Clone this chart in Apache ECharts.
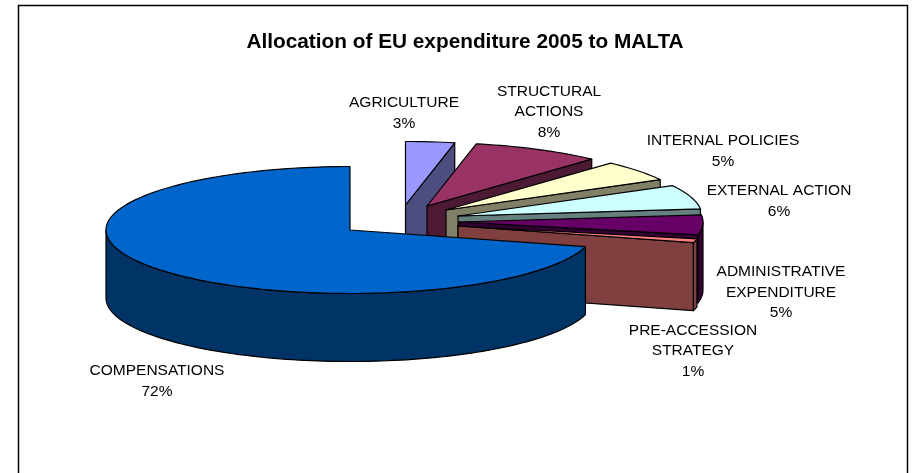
<!DOCTYPE html>
<html><head><meta charset="utf-8">
<style>html,body{margin:0;padding:0;background:#fff}#c{width:912px;height:473px}</style>
<script src="https://cdn.jsdelivr.net/npm/echarts@6/dist/echarts.min.js"></script>
</head><body><div id="c"></div>
<script>
// Data, clockwise from twelve o'clock
const categories = ['AGRICULTURE','STRUCTURAL ACTIONS','INTERNAL POLICIES','EXTERNAL ACTION','ADMINISTRATIVE EXPENDITURE','PRE-ACCESSION STRATEGY','COMPENSATIONS'];
const labelLines = [['AGRICULTURE'],['STRUCTURAL','ACTIONS'],['INTERNAL POLICIES'],['EXTERNAL ACTION'],['ADMINISTRATIVE','EXPENDITURE'],['PRE-ACCESSION','STRATEGY'],['COMPENSATIONS']];
const shares = [3,8,5,6,5,1,72];
const chartTitle = 'Allocation of EU expenditure 2005 to MALTA';

// Styling and layout of the exploded 3D pie
const topColors = ['#9999FF','#993366','#FFFFCC','#CCFFFF','#660066','#FF8080','#0066CC'];
const wallColors = ['#4D4D80','#4D1A33','#808066','#668080','#330033','#804040','#003366'];
const apexes = [[405.5,205],[427,206],[446,210],[458,216],[459,222],[458,226],[350,230]];
const labelCenters = [[404,113],[549,112],[723,151],[779,201],[781,292.5],[693,351],[157,381]];
const RX = 244, RY = 63.5, DEPTH = 68, WARP = 4.5;

const rad = d => d * Math.PI / 180;
// apparent (perspective) angle for a true clockwise angle from north
const warp = a => a + WARP * Math.sin(rad(a));
const rim = (apex, a, drop) => [apex[0] + RX * Math.sin(rad(a)), apex[1] - RY * Math.cos(rad(a)) + (drop || 0)];
function arc(apex, from, to, drop) {
  const pts = [], n = Math.max(2, Math.ceil((to - from) / 1.5));
  for (let i = 0; i <= n; i++) pts.push(rim(apex, from + (to - from) * i / n, drop));
  return pts;
}
const total = shares.reduce((s, v) => s + v, 0);

function renderSlice(params, api) {
  const i = params.dataIndex, value = api.value(0);
  let before = 0;
  for (let k = 0; k < i; k++) before += shares[k];
  const a0 = warp(before / total * 360), a1 = warp((before + value) / total * 360);
  const apex = apexes[i];
  const style = c => ({ fill: c, stroke: '#000', lineWidth: 1.2, lineJoin: 'round' });
  const kids = [];
  // radial cut face at the clockwise end
  const e = rim(apex, a1);
  if (a1 < 180) kids.push({ type: 'polygon', shape: { points: [apex, e, [e[0], e[1] + DEPTH], [apex[0], apex[1] + DEPTH]] }, style: style(wallColors[i]) });
  // rim wall on the part of the arc that faces the viewer
  const wf = Math.max(a0, 90), wt = Math.min(a1, 270);
  if (wt > wf) kids.push({ type: 'polygon', shape: { points: arc(apex, wf, wt).concat(arc(apex, wf, wt, DEPTH).reverse()) }, style: style(wallColors[i]) });
  // top face
  kids.push({ type: 'polygon', shape: { points: [apex].concat(arc(apex, a0, a1)) }, style: style(topColors[i]) });
  return { type: 'group', children: kids };
}

function renderLabel(params, api) {
  const i = params.dataIndex, c = labelCenters[i];
  return { type: 'text', silent: true, style: {
    x: c[0], y: c[1], align: 'center', verticalAlign: 'middle',
    text: labelLines[i].concat([Math.round(api.value(0)) + '%']).join('\n'),
    font: '15.5px "Liberation Sans", Arial, sans-serif', lineHeight: 20.5, fill: '#000'
  } };
}

const data = categories.map((name, i) => ({ name, value: [shares[i]] }));
echarts.init(document.getElementById('c'), null, { renderer: 'canvas' }).setOption({
  animation: false,
  backgroundColor: '#fff',
  title: { text: chartTitle, left: 460, top: 27, textAlign: 'center',
    textStyle: { fontFamily: '"Liberation Sans", Arial, sans-serif', fontSize: 20.8, fontWeight: 'bold', color: '#000' } },
  graphic: [{ type: 'rect', z: -1, shape: { x: 18.5, y: 5.5, width: 889, height: 490 }, style: { fill: '#fff', stroke: '#000', lineWidth: 1.5 } }],
  series: [
    { type: 'custom', name: 'slices', coordinateSystem: 'none', renderItem: renderSlice, data, encode: { value: 0 }, z: 2 },
    { type: 'custom', name: 'labels', coordinateSystem: 'none', renderItem: renderLabel, data, encode: { value: 0 }, z: 3 }
  ]
});
</script></body></html>
